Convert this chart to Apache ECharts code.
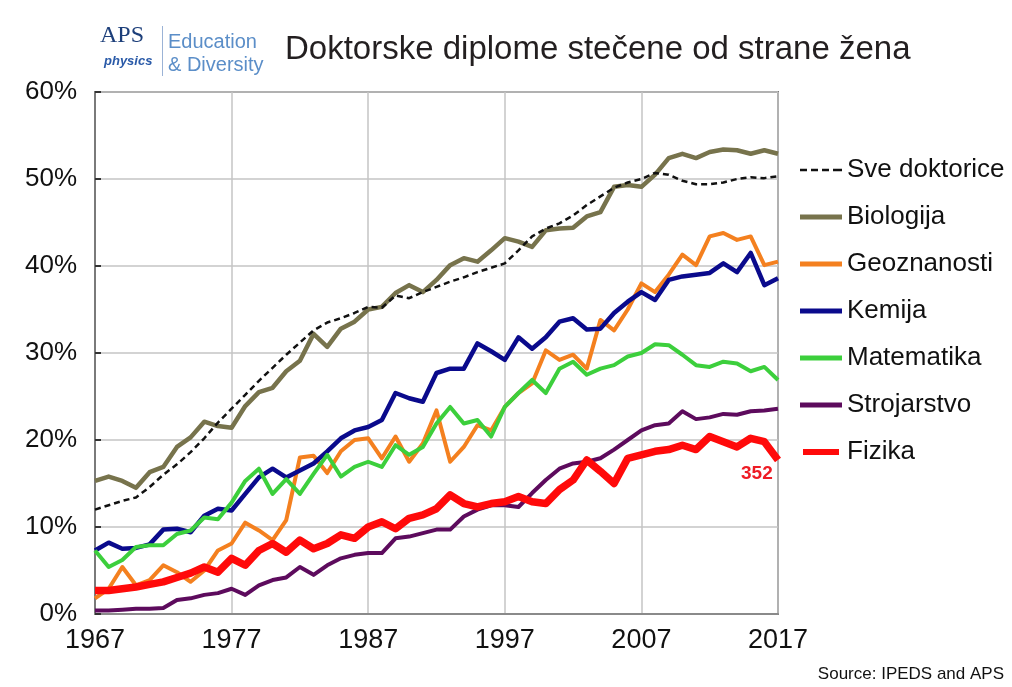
<!DOCTYPE html>
<html>
<head>
<meta charset="utf-8">
<script src="https://cdn.jsdelivr.net/npm/echarts@6/dist/echarts.min.js"></script>
<style>
  html, body { margin: 0; padding: 0; background: #fff; }
  #chart { width: 1012px; height: 687px; }
</style>
</head>
<body>
<div id="chart"></div>
<script>
// godine 1967 - 2017
const years = [];
for (let y = 1967; y <= 2017; y++) years.push(y);

const sveDoktorice = [12.0, 12.5, 13.0, 13.4, 14.6, 16.0, 17.2, 18.6, 20.2, 22.0, 23.6, 25.2, 26.8, 28.3, 29.8, 31.2, 32.6, 33.5, 34.0, 34.6, 35.3, 35.2, 36.6, 36.3, 37.0, 37.6, 38.2, 38.7, 39.3, 39.8, 40.3, 41.8, 43.4, 44.3, 44.9, 45.8, 47.0, 48.0, 49.0, 49.6, 50.0, 50.7, 50.5, 49.8, 49.4, 49.4, 49.6, 50.0, 50.2, 50.1, 50.3];
const biologija = [15.3, 15.8, 15.3, 14.5, 16.3, 16.9, 19.2, 20.3, 22.1, 21.6, 21.4, 23.9, 25.5, 26.0, 27.9, 29.1, 32.2, 30.7, 32.8, 33.6, 35.0, 35.3, 36.9, 37.8, 37.0, 38.4, 40.1, 40.9, 40.5, 41.8, 43.2, 42.8, 42.2, 44.1, 44.3, 44.4, 45.7, 46.2, 49.1, 49.3, 49.1, 50.5, 52.4, 52.9, 52.4, 53.1, 53.4, 53.3, 52.9, 53.3, 52.9];
const geoznanosti = [1.8, 2.9, 5.4, 3.3, 3.9, 5.6, 4.8, 3.7, 5.0, 7.3, 8.1, 10.5, 9.6, 8.5, 10.8, 18.0, 18.2, 16.2, 18.7, 20.0, 20.2, 17.9, 20.4, 17.5, 19.6, 23.4, 17.5, 19.2, 21.7, 21.1, 23.8, 25.4, 26.5, 30.3, 29.2, 29.8, 28.2, 33.8, 32.6, 35.0, 38.0, 37.0, 39.0, 41.3, 40.1, 43.4, 43.8, 43.0, 43.4, 40.1, 40.5];
const kemija = [7.3, 8.2, 7.5, 7.6, 8.0, 9.7, 9.8, 9.4, 11.3, 12.1, 11.9, 13.8, 15.7, 16.7, 15.7, 16.5, 17.3, 18.7, 20.2, 21.1, 21.5, 22.3, 25.4, 24.8, 24.4, 27.7, 28.2, 28.2, 31.1, 30.2, 29.2, 31.8, 30.5, 31.8, 33.6, 34.0, 32.7, 32.8, 34.6, 35.9, 37.0, 36.1, 38.4, 38.8, 39.0, 39.2, 40.3, 39.3, 41.5, 37.8, 38.6];
const matematika = [7.3, 5.4, 6.2, 7.7, 7.9, 7.9, 9.2, 9.6, 11.1, 10.9, 12.8, 15.3, 16.7, 13.8, 15.5, 13.8, 16.1, 18.3, 15.8, 16.9, 17.5, 16.9, 19.4, 18.3, 19.2, 21.9, 23.8, 21.9, 22.3, 20.4, 23.8, 25.4, 26.9, 25.4, 28.2, 29.0, 27.5, 28.2, 28.6, 29.6, 30.0, 31.0, 30.9, 29.8, 28.6, 28.4, 29.0, 28.8, 27.9, 28.4, 26.9];
const strojarstvo = [0.4, 0.4, 0.5, 0.6, 0.6, 0.7, 1.6, 1.8, 2.2, 2.4, 2.9, 2.2, 3.3, 3.9, 4.2, 5.4, 4.5, 5.6, 6.4, 6.8, 7.0, 7.0, 8.7, 8.9, 9.3, 9.7, 9.7, 11.2, 12.0, 12.5, 12.5, 12.3, 13.9, 15.4, 16.7, 17.3, 17.5, 17.9, 18.9, 20.0, 21.1, 21.7, 21.9, 23.3, 22.4, 22.6, 23.0, 22.9, 23.3, 23.4, 23.6];
const fizika = [2.7, 2.7, 2.9, 3.1, 3.4, 3.7, 4.2, 4.7, 5.4, 4.8, 6.4, 5.6, 7.3, 8.1, 7.1, 8.5, 7.5, 8.1, 9.1, 8.7, 10.0, 10.6, 9.8, 11.0, 11.4, 12.1, 13.7, 12.7, 12.3, 12.7, 12.9, 13.5, 12.9, 12.7, 14.3, 15.4, 17.7, 16.4, 15.0, 17.9, 18.3, 18.7, 18.9, 19.4, 18.9, 20.4, 19.8, 19.2, 20.2, 19.8, 17.7];

const xTicks = [1967, 1977, 1987, 1997, 2007, 2017];
const yTicks = [0, 10, 20, 30, 40, 50, 60];

const pairs = vals => years.map((y, i) => [y, vals[i]]);

const chart = echarts.init(document.getElementById('chart'));

const font = 'Liberation Sans, Arial, sans-serif';

function line(name, vals, color, width, dashed) {
  return {
    name: name,
    type: 'line',
    data: pairs(vals),
    symbol: 'none',
    lineStyle: { color: color, width: width, type: dashed ? [6, 4] : 'solid', join: 'round' },
    itemStyle: { color: color },
    emphasis: { disabled: true }
  };
}

// ikone legende: puna crta i isprekidana crta
const solidIcon = 'path://M0,0h42v5h-42z';
const dashIcon = 'path://M0,0h7v2.5h-7zM11,0h7v2.5h-7zM22,0h7v2.5h-7zM33,0h9v2.5h-9z';

const option = {
  animation: false,
  backgroundColor: '#fff',
  grid: { left: 95, right: 234, top: 92, bottom: 73, show: true, borderColor: '#7a7a7a', borderWidth: 2 },
  xAxis: {
    type: 'value',
    min: xTicks[0],
    max: xTicks[xTicks.length - 1],
    interval: 10,
    axisLine: { show: true, lineStyle: { color: '#8a8a8a', width: 2 } },
    axisTick: { show: false },
    splitLine: { show: true, lineStyle: { color: '#c4c4c4', width: 1.5 } },
    axisLabel: { color: '#111', fontSize: 27, fontFamily: font, margin: 13, formatter: v => String(v) }
  },
  yAxis: {
    type: 'value',
    min: yTicks[0],
    max: yTicks[yTicks.length - 1],
    interval: 10,
    axisLine: { show: true, lineStyle: { color: '#7a7a7a', width: 2 } },
    axisTick: { show: true, inside: true, length: 6, lineStyle: { color: '#333', width: 2 } },
    splitLine: { show: true, lineStyle: { color: '#c4c4c4', width: 1.5 } },
    axisLabel: { color: '#111', fontSize: 26, fontFamily: font, margin: 18, formatter: '{value}%' }
  },
  legend: {
    orient: 'vertical',
    left: 795,
    top: 150,
    itemWidth: 42,
    itemHeight: 6,
    itemGap: 17,
    symbolKeepAspect: true,
    textStyle: { fontSize: 26, fontFamily: font, color: '#111', lineHeight: 30 },
    data: [
      { name: 'Sve doktorice', icon: dashIcon },
      { name: 'Biologija', icon: solidIcon },
      { name: 'Geoznanosti', icon: solidIcon },
      { name: 'Kemija', icon: solidIcon },
      { name: 'Matematika', icon: solidIcon },
      { name: 'Strojarstvo', icon: solidIcon },
      { name: 'Fizika', icon: 'path://M0,0h42v7h-42z' }
    ]
  },
  series: [
    line('Biologija', biologija, '#77734c', 4.5),
    line('Geoznanosti', geoznanosti, '#f4801f', 4),
    line('Kemija', kemija, '#0a0a8c', 4.5),
    line('Matematika', matematika, '#3ccf3c', 4),
    line('Strojarstvo', strojarstvo, '#5d0b5d', 4),
    line('Sve doktorice', sveDoktorice, '#111', 2.5, true),
    line('Fizika', fizika, '#ff0a0a', 7.5)
  ],
  graphic: [
    { type: 'text', left: 100, top: 24, style: { text: 'APS', font: '24px "Liberation Serif", serif', fill: '#1d3f7a' } },
    { type: 'text', left: 104, top: 55, style: { text: 'physics', font: 'italic bold 13px "Liberation Sans", sans-serif', fill: '#2a5aa8' } },
    { type: 'rect', shape: { x: 162, y: 26, width: 1, height: 50 }, style: { fill: '#9bb3d6' } },
    { type: 'text', left: 168, top: 32, style: { text: 'Education', font: '20px "Liberation Sans", sans-serif', fill: '#5b8ec8' } },
    { type: 'text', left: 168, top: 55, style: { text: '& Diversity', font: '20px "Liberation Sans", sans-serif', fill: '#5b8ec8' } },
    { type: 'text', left: 285, top: 33, style: { text: 'Doktorske diplome stečene od strane žena', font: '33px "Liberation Sans", Arial, sans-serif', fill: '#231f20' } },
    { type: 'text', left: 741, top: 464, style: { text: '352', font: 'bold 19px "Liberation Sans", sans-serif', fill: '#ee1c25' } },
    { type: 'text', right: 8, top: 666, style: { text: 'Source: IPEDS and APS', font: '17px "Liberation Sans", sans-serif', fill: '#111' } }
  ]
};

chart.setOption(option);
</script>
</body>
</html>
